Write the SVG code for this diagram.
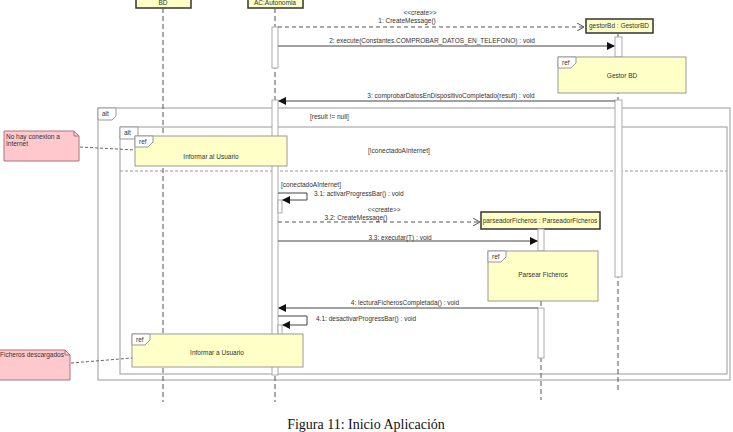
<svg xmlns="http://www.w3.org/2000/svg" width="733" height="432" viewBox="0 0 733 432">
<style>
text{font-family:"Liberation Sans",Arial,sans-serif;font-size:6.5px;fill:#333}
.life{stroke:#555;stroke-width:1;stroke-dasharray:5,3;fill:none}
.head{fill:#ffffc6;stroke:#333;stroke-width:1.5}
.act{fill:#fff;stroke:#aaa;stroke-width:1}
.ref{fill:#ffffc8;stroke:#999;stroke-width:1}
.frame{fill:none;stroke:#999;stroke-width:1}
.msg{stroke:#444;stroke-width:1;fill:none}
.dmsg{stroke:#555;stroke-width:1;fill:none;stroke-dasharray:4,3}
.note{fill:#ffc8cc;stroke:#b07080;stroke-width:1}
.nl{stroke:#666;stroke-width:1;stroke-dasharray:3,2;fill:none}
.tag{fill:#fff;stroke:#999;stroke-width:1}
</style>
<defs>
<marker id="fa" markerWidth="8" markerHeight="8" refX="7" refY="4" orient="auto" markerUnits="userSpaceOnUse"><path d="M0,0 L8,4 L0,8 z" fill="#111"/></marker>
<marker id="oa" markerWidth="8" markerHeight="8" refX="7" refY="4" orient="auto" markerUnits="userSpaceOnUse"><path d="M0,0 L7,4 L0,8" fill="none" stroke="#555"/></marker>
</defs>
<rect width="733" height="432" fill="#fff"/>

<g id="frames">
<rect class="frame" x="98" y="108" width="632" height="272"/>
<path class="tag" d="M98,108 H116 V116 L112,120 H98 z"/>
<text x="102" y="116">alt</text>
<text x="310" y="119">[result != null]</text>
<rect class="frame" x="120" y="127" width="607" height="247"/>
<path class="tag" d="M120,127 H138 V135 L134,139 H120 z"/>
<text x="124" y="135">alt</text>
<text x="368" y="153">[!conectadoAInternet]</text>
<line x1="120" y1="171" x2="727" y2="171" stroke="#999" stroke-dasharray="3,2"/>
<text x="281" y="187">[conectadoAInternet]</text>
</g>

<g id="BD">
<rect class="head" x="136" y="-10" width="55" height="18"/>
<text x="163" y="5" text-anchor="middle">BD</text>
<line class="life" x1="163" y1="8" x2="163" y2="402"/>
</g>

<g id="AC">
<rect class="head" x="248" y="-10" width="55" height="18"/>
<text x="275" y="5" text-anchor="middle">AC:Autonomia</text>
<line class="life" x1="275" y1="8" x2="275" y2="402"/>
<rect class="act" x="272" y="27" width="6" height="41"/>
<rect class="act" x="272" y="100" width="6" height="275"/>
<rect class="act" x="278" y="200" width="4" height="13"/>
<rect class="act" x="278" y="325" width="4" height="10"/>
</g>

<g id="gestorBd">
<rect class="head" x="586" y="19" width="67" height="14"/>
<text x="619" y="28" text-anchor="middle">gestorBd : GestorBD</text>
<line class="life" x1="618" y1="33" x2="618" y2="390"/>
<rect class="act" x="615" y="37" width="7" height="20"/>
<rect class="act" x="615" y="100" width="7" height="177"/>
</g>

<g id="refGestorBD">
<rect class="ref" x="558" y="57" width="128" height="36"/>
<path class="tag" d="M558,57 H576 V63 L571,68 H558 z"/>
<text x="562" y="65">ref</text>
<text x="622" y="78" text-anchor="middle">Gestor BD</text>
</g>

<g id="parseadorFicheros">
<rect class="head" x="481" y="212" width="119" height="17"/>
<text x="540" y="223" text-anchor="middle">parseadorFicheros : ParseadorFicheros</text>
<line class="life" x1="541" y1="229" x2="541" y2="400"/>
<rect class="act" x="538" y="229" width="6" height="22"/>
<rect class="act" x="538" y="308" width="6" height="50"/>
</g>

<g id="refParsear">
<rect class="ref" x="488" y="251" width="110" height="50"/>
<path class="tag" d="M488,251 H506 V257 L501,262 H488 z"/>
<text x="492" y="259">ref</text>
<text x="543" y="277" text-anchor="middle">Parsear Ficheros</text>
</g>

<g id="refInformarAl">
<rect class="ref" x="135" y="136" width="152" height="30"/>
<path class="tag" d="M135,136 H153 V142 L148,147 H135 z"/>
<text x="139" y="144">ref</text>
<text x="211" y="159" text-anchor="middle">Informar al Usuario</text>
</g>

<g id="refInformarA">
<rect class="ref" x="132" y="334" width="171" height="33"/>
<path class="tag" d="M132,334 H150 V340 L145,345 H132 z"/>
<text x="136" y="342">ref</text>
<text x="217" y="355" text-anchor="middle">Informar a Usuario</text>
</g>

<g id="note1">
<path class="note" d="M4,131 H74 L79,136 V161 H4 z"/>
<path d="M74,131 V136 H79" fill="none" stroke="#b07080"/>
<text x="6" y="139">No hay conexion a</text>
<text x="6" y="146">Internet</text>
</g>

<g id="note2">
<path class="note" d="M-2,350 H65 L70,355 V380 H-2 z"/>
<path d="M65,350 V355 H70" fill="none" stroke="#b07080"/>
<text x="0" y="357">Ficheros descargados</text>
</g>

<g id="connectors">
<path class="dmsg" d="M278,27 H584" marker-end="url(#oa)"/>
<text x="420" y="15" text-anchor="middle" font-size="5.5">&lt;&lt;create&gt;&gt;</text>
<text x="407" y="23" text-anchor="middle">1: CreateMessage()</text>

<path class="msg" d="M278,46 H614" marker-end="url(#fa)"/>
<text x="432" y="43" text-anchor="middle">2: execute(Constantes.COMPROBAR_DATOS_EN_TELEFONO) : void</text>

<path class="msg" d="M615,101 H279" marker-end="url(#fa)"/>
<text x="451" y="98" text-anchor="middle">3: comprobarDatosEnDispositivoCompletado(result) : void</text>

<path class="msg" d="M278,193 H307 V200 H283" marker-end="url(#fa)"/>
<text x="314" y="196">3.1: activarProgressBar() : void</text>

<path class="dmsg" d="M278,222 H480" marker-end="url(#oa)"/>
<text x="384" y="212" text-anchor="middle" font-size="5.5">&lt;&lt;create&gt;&gt;</text>
<text x="356" y="220" text-anchor="middle">3.2: CreateMessage()</text>

<path class="msg" d="M278,241 H537" marker-end="url(#fa)"/>
<text x="400" y="240" text-anchor="middle">3.3: executar(T) : void</text>

<path class="msg" d="M538,308 H279" marker-end="url(#fa)"/>
<text x="405" y="305" text-anchor="middle">4: lecturaFicherosCompletada() : void</text>

<path class="msg" d="M278,316 H307 V325 H283" marker-end="url(#fa)"/>
<text x="316" y="321">4.1: desactivarProgressBar() : void</text>

<path class="nl" d="M80,147 L135,150"/>
<path class="nl" d="M71,363 L132,358"/>
</g>

<text x="366" y="429" text-anchor="middle" style="font-family:'Liberation Serif','Times New Roman',serif;font-size:14px;fill:#111">Figura 11: Inicio Aplicación</text>
</svg>
